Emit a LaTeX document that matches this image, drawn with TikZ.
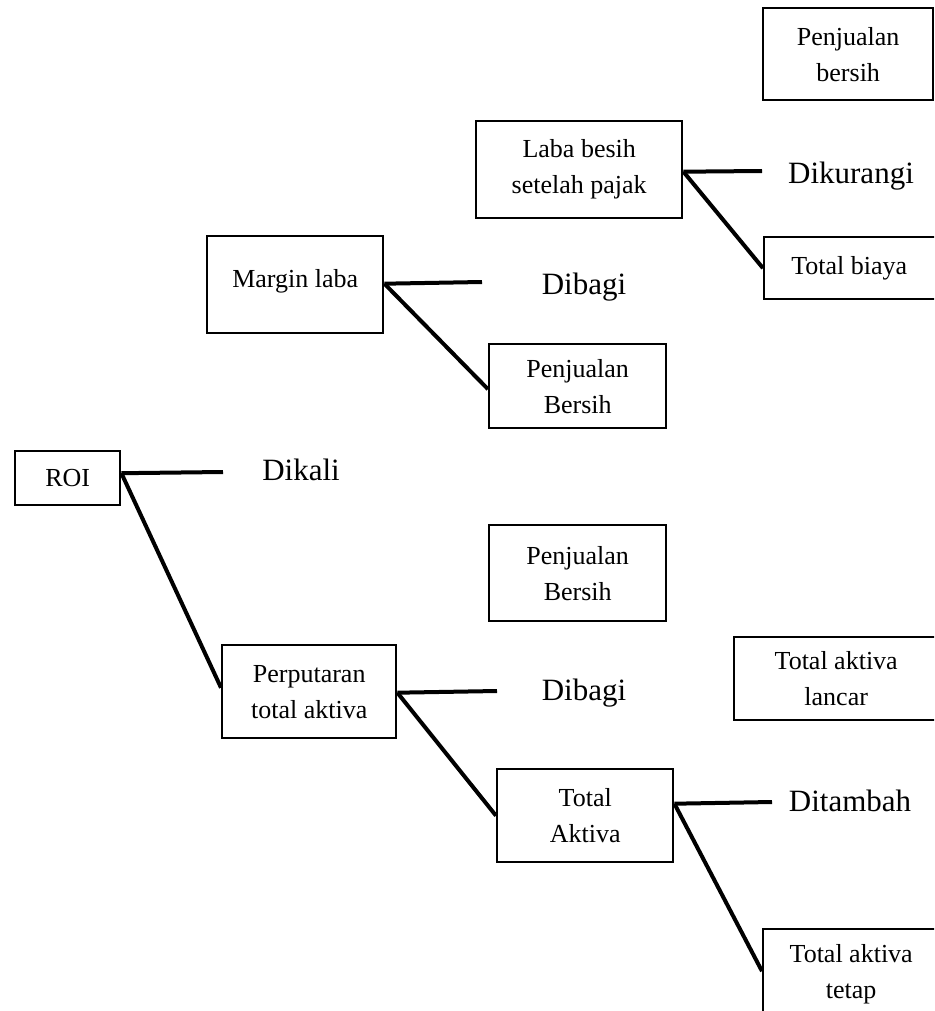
\documentclass[tikz,border=0pt]{standalone}
\usepackage{fontspec}
\setmainfont{Liberation Serif}
\begin{document}
\begin{tikzpicture}[x=1pt,y=-1pt,
  box/.style={draw, line width=2.4pt, inner sep=0pt, align=center,
    font=\fontsize{26}{36}\selectfont, anchor=north west},
  op/.style={inner sep=0pt, font=\fontsize{31}{36}\selectfont, text height=0.7em, text depth=0.2em},
  conn/.style={line width=4pt}]
\useasboundingbox (0,0) rectangle (934,1011);
\clip (0,0) rectangle (934,1011);

% boxes
\node[box, minimum width=170pt, minimum height=92pt] (pbtop) at (762,7) {Penjualan\\bersih};
\node[box, minimum width=206pt, minimum height=97pt] (laba) at (475,120) {Laba besih\\setelah pajak};
\node[box, minimum width=174pt, minimum height=62pt] (biaya) at (763,236) {\hspace*{-4pt}Total biaya};
\node[box, minimum width=176pt, minimum height=97pt] (margin) at (206,235) {\raisebox{13pt}{Margin laba}};
\node[box, minimum width=177pt, minimum height=84pt] (pb1) at (488,343) {Penjualan\\Bersih};
\node[box, minimum width=105pt, minimum height=54pt] (roi) at (14,450) {ROI};
\node[box, minimum width=177pt, minimum height=96pt] (pb2) at (488,524) {Penjualan\\Bersih};
\node[box, minimum width=204pt, minimum height=83pt] (lancar) at (733,636) {Total aktiva\\lancar};
\node[box, minimum width=174pt, minimum height=93pt] (perput) at (221,644) {Perputaran\\total aktiva};
\node[box, minimum width=176pt, minimum height=93pt] (tak) at (496,768) {Total\\Aktiva};
\node[box, minimum width=176pt, minimum height=90pt] (tetap) at (762,928) {Total aktiva\\tetap};

% operation labels
\node[op] (dikurangi) at (851,181) {Dikurangi};
\node[op] (dibagi1) at (584,292) {Dibagi};
\node[op] (dikali) at (301,478) {Dikali};
\node[op] (dibagi2) at (584,698) {Dibagi};
\node[op] (ditambah) at (850,809) {Ditambah};

% line ends
\coordinate (e1) at (762,171);
\coordinate (e2) at (482,282);
\coordinate (e3) at (223,472);
\coordinate (e4) at (497,691);
\coordinate (e5) at (772,802);

% connectors
\draw[conn] ([yshift=-2pt]laba.east) -- (e1);
\draw[conn] ([yshift=-2pt]laba.east) -- (biaya.west);
\draw[conn] ([yshift=1pt]margin.east) -- (e2);
\draw[conn] ([yshift=1pt]margin.east) -- ([yshift=-3pt]pb1.west);
\draw[conn] ([yshift=5pt]roi.east) -- (e3);
\draw[conn] ([yshift=5pt]roi.east) -- ([yshift=4pt]perput.west);
\draw[conn] ([yshift=-1pt]perput.east) -- (e4);
\draw[conn] ([yshift=-1pt]perput.east) -- (tak.west);
\draw[conn] ([yshift=12pt]tak.east) -- (e5);
\draw[conn] ([yshift=12pt]tak.east) -- ([yshift=3pt]tetap.west);
\end{tikzpicture}
\end{document}
